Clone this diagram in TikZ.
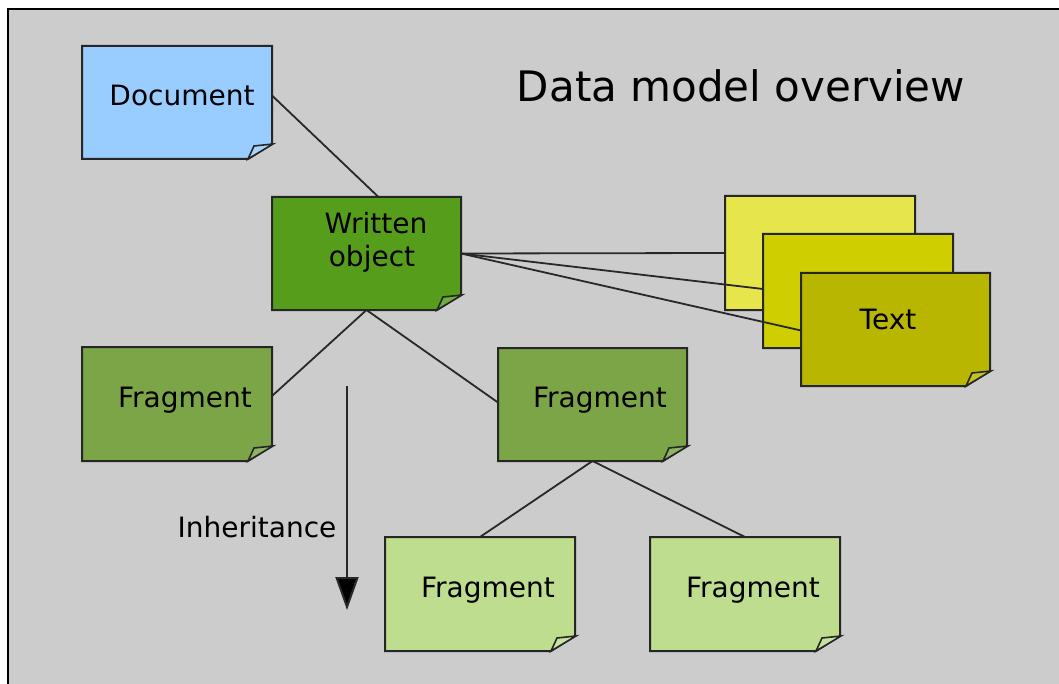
\documentclass[tikz,border=0pt]{standalone}
\usepackage{fontspec}
\setmainfont{DejaVu Sans}
\usetikzlibrary{arrows.meta}
\definecolor{bg}{RGB}{204,204,204}
\definecolor{docblue}{RGB}{153,204,255}
\definecolor{wogreen}{RGB}{87,157,28}
\definecolor{frgreen}{RGB}{123,165,71}
\definecolor{lgreen}{RGB}{191,221,142}
\definecolor{yback}{RGB}{230,230,76}
\definecolor{ymid}{RGB}{207,206,0}
\definecolor{yfront}{RGB}{185,182,0}
\definecolor{linec}{RGB}{40,40,40}
\tikzset{
  boxline/.style={draw=black!85, line width=2pt, line join=miter},
  conn/.style={draw=linec, line width=1.8pt},
  slot/.style={inner sep=0pt, outer sep=0pt, anchor=north west},
  lbl/.style={font=\fontsize{28}{33}\selectfont, inner sep=0pt, anchor=base},
}
\newcommand{\foldbox}[2]{%
  \draw[boxline, fill=#2] (#1.north west) -- (#1.north east) -- ([yshift=15pt]#1.south east)
    -- ([xshift=-24pt]#1.south east) -- (#1.south west) -- cycle;
  \draw[boxline, line width=1.6pt, fill=#2!85!white] ([xshift=-24pt]#1.south east)
    -- ([xshift=-18pt,yshift=13pt]#1.south east) -- ([xshift=1pt,yshift=15pt]#1.south east) -- cycle;}
\begin{document}
\begin{tikzpicture}[x=1pt,y=-1pt]
\useasboundingbox (0,0) rectangle (1059,684);
\fill[white] (0,0) rectangle (1059,684);
\fill[bg] (8,9) rectangle (1059,684);
\draw[black, line width=2.5pt] (8,684) -- (8,9) -- (1059,9);

% box slots
\node[slot, minimum width=190pt, minimum height=113pt] (doc) at (82,46) {};
\node[slot, minimum width=189pt, minimum height=113pt] (wo) at (272,197) {};
\node[slot, minimum width=190pt, minimum height=114pt] (f1) at (82,347) {};
\node[slot, minimum width=189pt, minimum height=113pt] (f2) at (498,348) {};
\node[slot, minimum width=190pt, minimum height=114pt] (f3) at (385,537) {};
\node[slot, minimum width=190pt, minimum height=114pt] (f4) at (650,537) {};
\node[slot, minimum width=190pt, minimum height=114pt] (t1) at (725,196) {};
\node[slot, minimum width=190pt, minimum height=114pt] (t2) at (763,234) {};
\node[slot, minimum width=189pt, minimum height=113pt] (t3) at (801,273) {};

% connectors
\draw[conn] ([yshift=7pt]doc.east) -- ([xshift=12pt]wo.north);
\draw[conn] (wo.south) -- ([yshift=8pt]f1.east);
\draw[conn] (wo.south) -- ([yshift=2pt]f2.west);
\draw[conn] (f2.south) -- (f3.north);
\draw[conn] (f2.south) -- (f4.north);

\foldbox{doc}{docblue}
\foldbox{wo}{wogreen}
\foldbox{f1}{frgreen}
\foldbox{f2}{frgreen}
\foldbox{f3}{lgreen}
\foldbox{f4}{lgreen}
\foldbox{t1}{yback}
\draw[conn] (wo.east) -- (t1.west);
\foldbox{t2}{ymid}
\draw[conn] (wo.east) -- ([yshift=2pt]t2.west);
\foldbox{t3}{yfront}
\draw[conn] (wo.east) -- ([yshift=-1pt]t3.west);

% labels
\node[lbl] (docT) at (182,106) {Document};
\node[lbl] (woT1) at (376,234) {Written};
\node[lbl] (woT2) at (372,267) {object};
\node[lbl] (f1T) at (185,407) {Fragment};
\node[lbl] (f2T) at (600,407) {Fragment};
\node[lbl] (f3T) at (488,597) {Fragment};
\node[lbl] (f4T) at (753,597) {Fragment};
\node[lbl] (t3T) at (888,330) {Text};
\node[lbl] (inhT) at (257,537) {Inheritance};
\node[lbl, font=\fontsize{42}{50}\selectfont] (title) at (741,102) {Data model overview};

% inheritance arrow
\coordinate (a1) at (347,386);
\coordinate (a2) at (347,610);
\draw[draw=linec, line width=2pt, -{Triangle[length=33pt,width=23pt,fill=black]}] (a1) -- (a2);
\end{tikzpicture}
\end{document}
